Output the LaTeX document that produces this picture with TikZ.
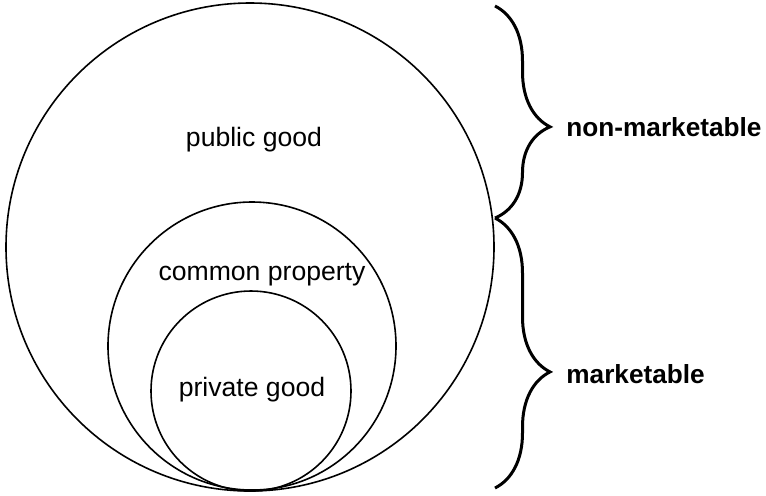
\documentclass[tikz,border=0pt]{standalone}
\usepackage{fontspec}
\setmainfont{Liberation Sans}
\usetikzlibrary{decorations.pathreplacing}
\tikzset{
  goodline/.style={line width=0.8pt},
  bracket/.style={line width=1.5pt, decorate,
    decoration={brace, amplitude=27.5pt, aspect=0.57}},
  goodlabel/.style={font=\fontsize{13.3}{16}\selectfont},
  marketlabel/.style={font=\fontsize{13.1}{16}\selectfont\bfseries, anchor=west, inner sep=0pt}
}
\begin{document}
\begin{tikzpicture}[x=0.5pt, y=-0.5pt]
      \useasboundingbox (0,0) rectangle (766,495);
      % nested circles, all touching at the bottom
      \draw[goodline] (250,247) circle (244);
      \draw[goodline] (252,346) circle (144);
      \draw[goodline] (251,391) circle (100);
      \node[goodlabel] (public) at (254,140) {public good};
      \node[goodlabel] (common) at (262,275) {common property};
      \node[goodlabel] (private) at (252,390) {private good};
      % braces on the right
      \coordinate (top) at (495,6);
      \coordinate (mid) at (495,218);
      \coordinate (bot) at (495,488);
      \draw[bracket] (top) -- (mid);
      \draw[bracket] (mid) -- (bot);
      \node[marketlabel] (nonmarket) at (566,127) {non-marketable};
      \node[marketlabel] (market) at (566,374) {marketable};
    \end{tikzpicture}
\end{document}
